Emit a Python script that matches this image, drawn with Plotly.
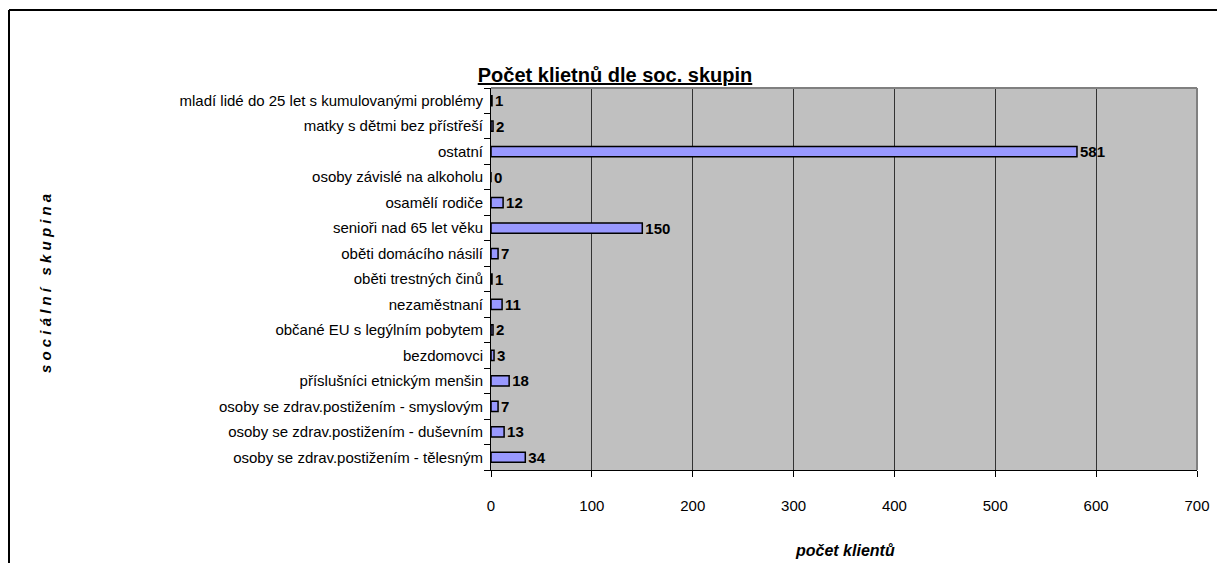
import plotly.graph_objects as go

# categories from top to bottom as in the picture
skupiny = [
    "mladí lidé do 25 let s kumulovanými problémy",
    "matky s dětmi bez přístřeší",
    "ostatní",
    "osoby závislé na alkoholu",
    "osamělí rodiče",
    "senioři nad 65 let věku",
    "oběti domácího násilí",
    "oběti trestných činů",
    "nezaměstnaní",
    "občané EU s legýlním pobytem",
    "bezdomovci",
    "příslušníci etnickým menšin",
    "osoby se zdrav.postižením - smyslovým",
    "osoby se zdrav.postižením - duševním",
    "osoby se zdrav.postižením - tělesným",
]
pocet = [1, 2, 581, 0, 12, 150, 7, 1, 11, 2, 3, 18, 7, 13, 34]
x_ticks = [0, 100, 200, 300, 400, 500, 600, 700]

FONT = "Liberation Sans, Arial, sans-serif"

W, H = 1217, 563
ml, mr, mt, mb = 491, 20, 88, 93
pw, ph = W - ml - mr, H - mt - mb


def px(x):
    return (x - ml) / pw


def py(y):
    return (H - mb - y) / ph


fig = go.Figure()

fig.add_trace(go.Bar(
    y=skupiny,
    x=pocet,
    orientation="h",
    marker=dict(color="#9999FF", line=dict(color="black", width=1.5)),
    text=[str(v) for v in pocet],
    textposition="outside",
    constraintext="none",
    textfont=dict(family=FONT, size=15, color="black", weight="bold"),
    cliponaxis=False,
    showlegend=False,
))

fig.update_layout(
    width=W,
    height=H,
    margin=dict(l=ml, r=mr, t=mt, b=mb),
    paper_bgcolor="white",
    plot_bgcolor="#C0C0C0",
    bargap=0.6,
    font=dict(family=FONT, size=15, color="black"),
    title=dict(
        text="<b>Počet klietnů dle soc. skupin</b>",
        x=615 / W, xanchor="center", y=1 - 75 / H, yanchor="middle",
        font=dict(family=FONT, size=20, color="black", lineposition="under"),
    ),
    xaxis=dict(
        range=[0, 700],
        tickvals=x_ticks,
        automargin=False,
        showgrid=True,
        gridcolor="#333333",
        gridwidth=1,
        showline=True,
        linecolor="black",
        linewidth=1,
        ticks="outside",
        ticklen=6,
        tickcolor="black",
        zeroline=False,
        tickfont=dict(family=FONT, size=15),
        ticklabelstandoff=16,
        ticklabeloverflow="allow",
    ),
    yaxis=dict(
        categoryorder="array",
        categoryarray=skupiny[::-1],
        automargin=False,
        showline=True,
        linecolor="black",
        linewidth=1,
        ticks="outside",
        tickson="boundaries",
        ticklen=6,
        tickcolor="black",
        showgrid=False,
        tickfont=dict(family=FONT, size=15),
        ticklabelstandoff=4,
    ),
)

# gray border of the plot area (top and right)
fig.add_shape(type="line", xref="paper", yref="paper", x0=0, x1=1, y0=1, y1=1,
              line=dict(color="#808080", width=2))
fig.add_shape(type="line", xref="paper", yref="paper", x0=1, x1=1, y0=0, y1=1,
              line=dict(color="#808080", width=2))

# outer frame of the chart object
fig.add_shape(type="line", xref="paper", yref="paper",
              x0=px(9), x1=px(W + 5), y0=py(10), y1=py(10),
              line=dict(color="black", width=2))
fig.add_shape(type="line", xref="paper", yref="paper",
              x0=px(9), x1=px(9), y0=py(10), y1=py(H + 5),
              line=dict(color="black", width=2))

# axis titles
fig.add_annotation(
    text="<b><i>s o c i á l n í   s k u p i n a</i></b>",
    xref="paper", yref="paper", x=px(45), y=py(283),
    xanchor="center", yanchor="middle",
    showarrow=False, textangle=-90,
    font=dict(family=FONT, size=15, color="black"),
)
fig.add_annotation(
    text="<b><i>počet klientů</i></b>",
    xref="paper", yref="paper", x=px(845), y=py(550),
    xanchor="center", yanchor="middle",
    showarrow=False,
    font=dict(family=FONT, size=16, color="black"),
)

# drop the default body margin so the figure fills the window exactly
fig.write_html("out.html", config={"displayModeBar": False},
               post_script="document.body.style.margin='0';")
